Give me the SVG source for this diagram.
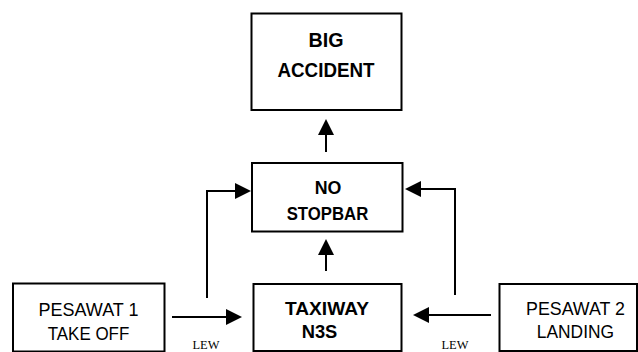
<svg xmlns="http://www.w3.org/2000/svg" width="638" height="352" viewBox="0 0 638 352">
<defs>
<style>
.box{fill:#fff;stroke:#000;stroke-width:2}
.b{font-family:"Liberation Sans",Arial,sans-serif;font-weight:bold;text-anchor:middle;fill:#000}
.r{font-family:"Liberation Sans",Arial,sans-serif;text-anchor:middle;fill:#000}
.lew{font-family:"Liberation Serif","Times New Roman",serif;font-size:12px;text-anchor:middle;fill:#000}
.con{fill:none;stroke:#000;stroke-width:2;marker-end:url(#ah)}
</style>
<marker id="ah" markerUnits="userSpaceOnUse" markerWidth="16" markerHeight="16" refX="8" refY="8" orient="auto" viewBox="0 0 16 16">
<path d="M0,0 L16,8 L0,16 Z" fill="#000"/>
</marker>
</defs>
<rect width="638" height="352" fill="#fff"/>
<g id="connectors">
<line class="con" x1="326" y1="152" x2="326" y2="127"/>
<line class="con" x1="326" y1="271" x2="326" y2="247"/>
<polyline class="con" points="207,298 207,191 243,191"/>
<polyline class="con" points="455,295 455,189 413,189"/>
<line class="con" x1="172" y1="317" x2="234" y2="317"/>
<line class="con" x1="491" y1="315" x2="421" y2="315"/>
</g>
<g id="big-accident">
<rect class="box" x="251.5" y="13.5" width="150" height="96.5"/>
<text class="b" x="326" y="47" font-size="21" textLength="35" lengthAdjust="spacingAndGlyphs">BIG</text>
<text class="b" x="326" y="77" font-size="21" textLength="97" lengthAdjust="spacingAndGlyphs">ACCIDENT</text>
</g>
<g id="no-stopbar">
<rect class="box" x="252" y="163" width="150.5" height="68.5"/>
<text class="b" x="328" y="194" font-size="18.5" textLength="26.7" lengthAdjust="spacingAndGlyphs">NO</text>
<text class="b" x="327.5" y="219.5" font-size="18.5" textLength="81.6" lengthAdjust="spacingAndGlyphs">STOPBAR</text>
</g>
<g id="pesawat-1">
<rect class="box" x="13" y="283.5" width="151.5" height="68"/>
<text class="r" x="88.5" y="316" font-size="19" textLength="100" lengthAdjust="spacingAndGlyphs">PESAWAT 1</text>
<text class="r" x="88.5" y="339.5" font-size="19" textLength="81.6" lengthAdjust="spacingAndGlyphs">TAKE OFF</text>
</g>
<g id="taxiway-n3s">
<rect class="box" x="253.5" y="284" width="148" height="67"/>
<text class="b" x="327" y="315.3" font-size="18.5" textLength="84" lengthAdjust="spacingAndGlyphs">TAXIWAY</text>
<text class="b" x="319.5" y="338" font-size="18.5" textLength="35.6" lengthAdjust="spacingAndGlyphs">N3S</text>
</g>
<g id="pesawat-2">
<rect class="box" x="499.5" y="284" width="137.5" height="67"/>
<text class="r" x="575.5" y="315.3" font-size="19" textLength="99" lengthAdjust="spacingAndGlyphs">PESAWAT 2</text>
<text class="r" x="575.4" y="337.5" font-size="19" textLength="77.3" lengthAdjust="spacingAndGlyphs">LANDING</text>
</g>
<g id="labels">
<text class="lew" x="206" y="348.5" textLength="27" lengthAdjust="spacingAndGlyphs">LEW</text>
<text class="lew" x="455" y="348.5" textLength="27" lengthAdjust="spacingAndGlyphs">LEW</text>
</g>
</svg>
